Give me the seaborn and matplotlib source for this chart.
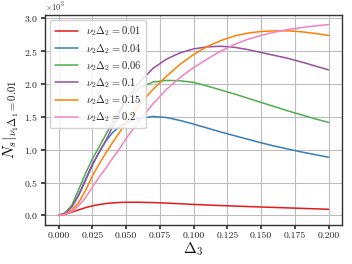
import numpy as np
import pandas as pd
import matplotlib
matplotlib.use("Agg")
import matplotlib.pyplot as plt
import seaborn as sns

# ---- data (N_s, in units of 10^3) ----
DELTA3 = [0.0, 0.005, 0.01, 0.015, 0.02, 0.025, 0.03, 0.035, 0.04, 0.045, 0.05,
          0.06, 0.07, 0.08, 0.09, 0.10, 0.11, 0.12, 0.13, 0.14, 0.15,
          0.16, 0.17, 0.18, 0.19, 0.20]

NU2D2 = ["0.01", "0.04", "0.06", "0.1", "0.15", "0.2"]

N_001 = [0, 0.018, 0.05, 0.085, 0.118, 0.145, 0.165, 0.18, 0.19, 0.197, 0.2,
         0.2, 0.195, 0.187, 0.177, 0.167, 0.158, 0.15, 0.142, 0.135, 0.128,
         0.121, 0.114, 0.107, 0.1, 0.093]
N_004 = [0, 0.035, 0.14, 0.31, 0.53, 0.76, 0.96, 1.13, 1.26, 1.35, 1.415,
         1.48, 1.505, 1.49, 1.445, 1.39, 1.33, 1.27, 1.215, 1.16, 1.105,
         1.055, 1.01, 0.965, 0.925, 0.885]
N_006 = [0, 0.04, 0.16, 0.4, 0.64, 0.86, 1.04, 1.23, 1.42, 1.6, 1.76,
         1.95, 2.03, 2.055, 2.05, 2.025, 1.97, 1.91, 1.85, 1.785, 1.72,
         1.655, 1.59, 1.53, 1.47, 1.415]
N_01 = [0, 0.03, 0.13, 0.32, 0.55, 0.78, 0.96, 1.14, 1.35, 1.56, 1.76,
        2.03, 2.24, 2.38, 2.475, 2.535, 2.565, 2.575, 2.56, 2.525, 2.48,
        2.435, 2.39, 2.335, 2.275, 2.215]
N_015 = [0, 0.02, 0.08, 0.2, 0.38, 0.6, 0.78, 0.95, 1.11, 1.26, 1.415,
         1.69, 1.92, 2.12, 2.3, 2.45, 2.57, 2.66, 2.73, 2.775, 2.8,
         2.81, 2.81, 2.795, 2.77, 2.74]
N_02 = [0, 0.015, 0.06, 0.15, 0.27, 0.43, 0.58, 0.72, 0.87, 1.01, 1.17,
        1.45, 1.7, 1.92, 2.1, 2.25, 2.38, 2.5, 2.6, 2.68, 2.74,
        2.79, 2.83, 2.86, 2.885, 2.905]

SERIES = [N_001, N_004, N_006, N_01, N_015, N_02]
COLORS = ["#e41a1c", "#377eb8", "#4daf4a", "#984ea3", "#ff7f00", "#f781bf"]

rows = []
for lab, vals in zip(NU2D2, SERIES):
    name = r"$\nu_2\Delta_2 = %s$" % lab
    for x, y in zip(DELTA3, vals):
        rows.append({"Delta3": x, "Ns": y * 1e3, "curve": name})
df = pd.DataFrame(rows)
order = [r"$\nu_2\Delta_2 = %s$" % lab for lab in NU2D2]

sns.set_theme(style="whitegrid")
plt.rcParams.update({
    "font.family": "serif",
    "font.serif": ["cmr10", "DejaVu Serif"],
    "mathtext.fontset": "cm",
    "axes.formatter.use_mathtext": True,
    "axes.edgecolor": "#333333",
    "axes.linewidth": 1.0,
    "grid.color": "#bdbdbd",
    "grid.linewidth": 0.8,
    "xtick.bottom": True,
    "ytick.left": True,
    "xtick.major.size": 3,
    "ytick.major.size": 3,
    "xtick.color": "#333333",
    "ytick.color": "#333333",
})

fig, ax = plt.subplots(figsize=(3.52, 2.64), dpi=100)
fig.subplots_adjust(left=0.128, right=0.972, top=0.943, bottom=0.148)

sns.lineplot(data=df, x="Delta3", y="Ns", hue="curve", hue_order=order,
             palette=COLORS, linewidth=1.1, ax=ax)

ax.set_xticks([0.0, 0.025, 0.05, 0.075, 0.1, 0.125, 0.15, 0.175, 0.2])
ax.set_xticklabels(["0.000", "0.025", "0.050", "0.075", "0.100",
                    "0.125", "0.150", "0.175", "0.200"])
ax.ticklabel_format(style="sci", axis="y", scilimits=(0, 0))
ax.yaxis.get_offset_text().set_fontsize(6)
ax.tick_params(axis="both", labelsize=7, pad=2, colors="#333333")
for lbl in ax.get_xticklabels() + ax.get_yticklabels():
    lbl.set_color("#222222")

ax.set_xlabel(r"$\Delta_3$", fontsize=11, labelpad=0, color="#111111")
ax.set_ylabel(r"$N_s|_{\nu_1\Delta_1=0.01}$", fontsize=11, labelpad=2, color="#111111")

handles, labels = ax.get_legend_handles_labels()
ax.legend(handles, labels, loc="upper left", fontsize=7.6, frameon=True,
          framealpha=0.85, edgecolor="#cccccc", borderpad=0.4, labelspacing=0.32,
          handlelength=2.2, handletextpad=0.8)

fig.savefig("out.png", dpi=100)
